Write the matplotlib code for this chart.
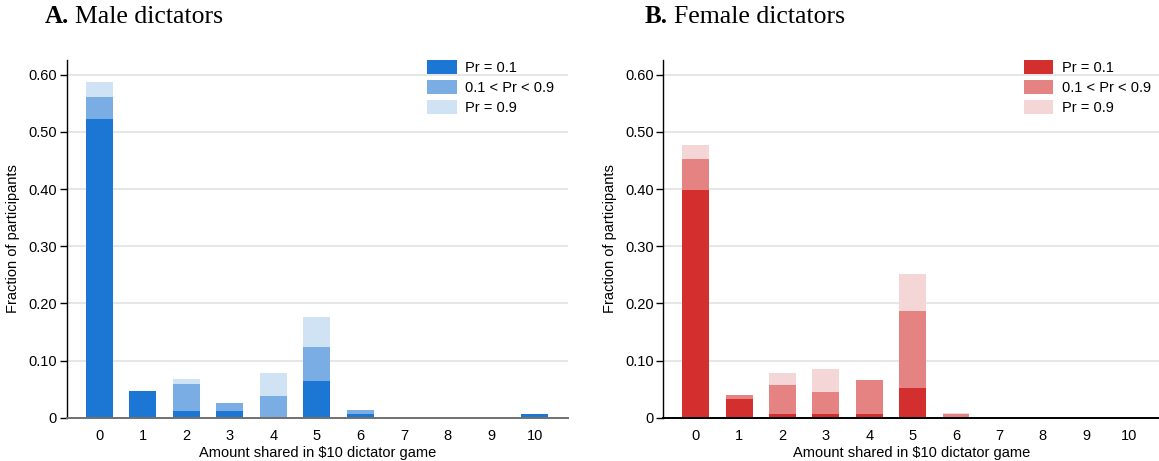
import numpy as np
import matplotlib
matplotlib.use("Agg")
import matplotlib.pyplot as plt

# amounts shared in the $10 dictator game
amounts = list(range(11))
legend_labels = ["Pr = 0.1", "0.1 < Pr < 0.9", "Pr = 0.9"]

# male dictators, stacked by belief category
male_low = [0.523, 0.047, 0.012, 0.012, 0.0, 0.064, 0.006, 0.0, 0.0, 0.0, 0.0065]
male_mid = [0.039, 0.0, 0.047, 0.014, 0.038, 0.060, 0.007, 0.0, 0.0, 0.0, 0.0]
male_high = [0.026, 0.0, 0.008, 0.0, 0.040, 0.052, 0.0, 0.0, 0.0, 0.0, 0.0]

# female dictators
female_low = [0.399, 0.033, 0.0065, 0.0065, 0.0065, 0.052, 0.0, 0.0, 0.0, 0.0, 0.0]
female_mid = [0.053, 0.007, 0.051, 0.039, 0.060, 0.135, 0.0065, 0.0, 0.0, 0.0, 0.0]
female_high = [0.026, 0.0, 0.021, 0.040, 0.0, 0.065, 0.0015, 0.0, 0.0, 0.0, 0.0]

yticks = [0, 0.1, 0.2, 0.3, 0.4, 0.5, 0.6]
ytick_labels = ["0", "0.10", "0.20", "0.30", "0.40", "0.50", "0.60"]

blues = ["#1b77d3", "#7aade4", "#d0e3f4"]
reds = ["#d32f2f", "#e58282", "#f5d6d6"]

plt.rcParams["font.family"] = ["Liberation Sans", "DejaVu Sans"]

W, H = 1159, 461
fig = plt.figure(figsize=(W / 100, H / 100), dpi=100)


def px_axes(left, right, top, bottom):
    return fig.add_axes([left / W, 1 - bottom / H, (right - left) / W, (bottom - top) / H])


def draw_panel(ax, low, mid, high, colors, xmax, bottom_color, legend_x):
    x = np.array(amounts)
    w = 0.62
    low = np.array(low)
    mid = np.array(mid)
    high = np.array(high)
    ax.bar(x, low, w, color=colors[0], label=legend_labels[0], zorder=3)
    ax.bar(x, mid, w, bottom=low, color=colors[1], label=legend_labels[1], zorder=3)
    ax.bar(x, high, w, bottom=low + mid, color=colors[2], label=legend_labels[2], zorder=3)

    ax.set_xlim(-0.75, xmax)
    ax.set_ylim(0, 0.626)
    ax.set_yticks(yticks)
    ax.set_yticklabels(ytick_labels, fontsize=10.5)
    ax.set_xticks(x)
    ax.set_xticklabels([str(a) for a in amounts], fontsize=10.5)
    ax.tick_params(axis="x", length=0, pad=8)
    ax.tick_params(axis="y", length=5, width=1, direction="out", pad=2)
    ax.yaxis.grid(True, color="#e2e2e2", linewidth=1.2, zorder=0)
    ax.set_axisbelow(True)

    for s in ["top", "right"]:
        ax.spines[s].set_visible(False)
    ax.spines["left"].set_color("black")
    ax.spines["left"].set_linewidth(1.0)
    ax.spines["bottom"].set_color(bottom_color)
    ax.spines["bottom"].set_linewidth(1.4)
    ax.spines["bottom"].set_zorder(4)

    ax.set_xlabel("Amount shared in $10 dictator game", fontsize=10.5, labelpad=2)
    ax.set_ylabel("Fraction of participants", fontsize=10.5, labelpad=6)

    ax.legend(loc="upper left", bbox_to_anchor=(legend_x, 1.0), frameon=False,
              fontsize=10.5, handlelength=2.0, handleheight=1.1,
              labelspacing=0.33, handletextpad=0.6, borderpad=0, borderaxespad=0)


ax1 = px_axes(66.7, 567.7, 60, 417.7)
draw_panel(ax1, male_low, male_mid, male_high, blues, 10.76, "#707070", 0.72)

ax2 = px_axes(663.3, 1159, 60, 417.7)
draw_panel(ax2, female_low, female_mid, female_high, reds, 10.68, "black", 0.728)

# panel titles: bold letter followed by regular text
title_y = 1 - 23 / H
serif = ["Liberation Serif", "DejaVu Serif"]
renderer = fig.canvas.get_renderer()
for x0, letter, rest in [(45, "A.", "Male dictators"), (645, "B.", "Female dictators")]:
    t = fig.text(x0 / W, title_y, letter, fontsize=18, fontweight="bold",
                 family=serif, va="baseline")
    bb = t.get_window_extent(renderer)
    fig.text((bb.x1 + 6) / W, title_y, rest, fontsize=18.5, family=serif, va="baseline")

fig.savefig("out.png", dpi=100)
